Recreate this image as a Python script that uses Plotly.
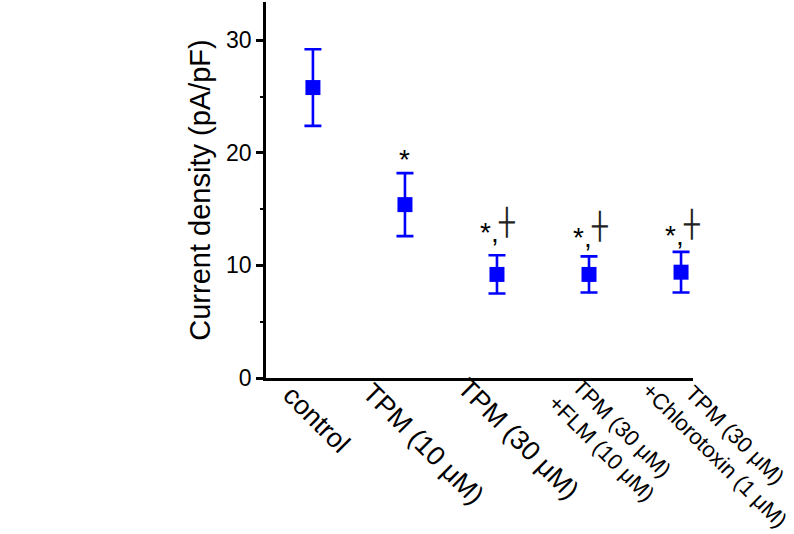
import plotly.graph_objects as go

categories = ["control", "TPM (10 μM)", "TPM (30 μM)",
              "TPM (30 μM)<br>+FLM (10 μM)", "TPM (30 μM)<br>+Chlorotoxin (1 μM)"]
means = [25.8, 15.4, 9.2, 9.2, 9.4]
errors = [3.4, 2.8, 1.7, 1.6, 1.8]
sig_star = ["", "*", "*,", "*,", "*,"]
sig_cross = [False, False, True, True, True]
sig_y = [None, 20.1, 13.6, 13.2, 13.4]

FONT = "Arial, Liberation Sans, sans-serif"
xs = list(range(len(categories)))

fig = go.Figure()
fig.add_trace(go.Scatter(
    x=xs, y=means, mode="markers",
    marker=dict(symbol="square", size=15, color="#0000ff"),
    error_y=dict(type="data", array=errors, visible=True,
                 color="#0000ff", thickness=2.6, width=8.5),
    showlegend=False, cliponaxis=False,
))

# label placement (style)
lab_sizes = [27, 27, 27, 22, 22]
lab_dx = [-39, -51, -48, -49, -47]
lab_dy = [1, 3, 8, 11, 24]
annotations = []
for i, c in enumerate(categories):
    annotations.append(dict(
        x=xs[i], y=0, xref="x", yref="y", text=c, showarrow=False,
        textangle=45, xanchor="left", yanchor="top",
        xshift=lab_dx[i], yshift=lab_dy[i],
        font=dict(family=FONT, size=lab_sizes[i], color="black"),
        align="center",
    ))
for i in xs:
    if sig_y[i] is None:
        continue
    annotations.append(dict(
        x=xs[i], y=sig_y[i], xref="x", yref="y", text=sig_star[i],
        showarrow=False, xanchor="center", yanchor="middle",
        xshift=(-7 if sig_cross[i] else 0), yshift=-8,
        font=dict(family=FONT, size=28, color="black"),
    ))
    if sig_cross[i]:
        annotations.append(dict(
            x=xs[i], y=sig_y[i], xref="x", yref="y", text="┼",
            showarrow=False, xanchor="center", yanchor="middle",
            xshift=10, yshift=3,
            font=dict(family="DejaVu Sans Mono", size=26, color="#222222"),
        ))

fig.update_layout(
    width=794, height=534,
    margin=dict(l=266, r=101, t=2, b=156),
    paper_bgcolor="white", plot_bgcolor="white",
    annotations=annotations,
    xaxis=dict(range=[-0.51, 4.13], showline=True, linewidth=2.6, linecolor="black",
               showgrid=False, zeroline=False, ticks="", showticklabels=False),
    yaxis=dict(range=[0, 33.4], showline=True, linewidth=2.6, linecolor="black",
               showgrid=False, zeroline=False, ticks="outside", ticklen=7,
               tickwidth=2.6, tickcolor="black", tickvals=[0, 10, 20, 30],
               tickfont=dict(family=FONT, size=23, color="black"),
               minor=dict(ticks="outside", ticklen=3, tickwidth=2, tickcolor="black",
                          tickvals=[5, 15, 25]),
               title=dict(text="Current density (pA/pF)", standoff=7,
                          font=dict(family=FONT, size=29, color="black"))),
)

fig.write_html("out.html")
